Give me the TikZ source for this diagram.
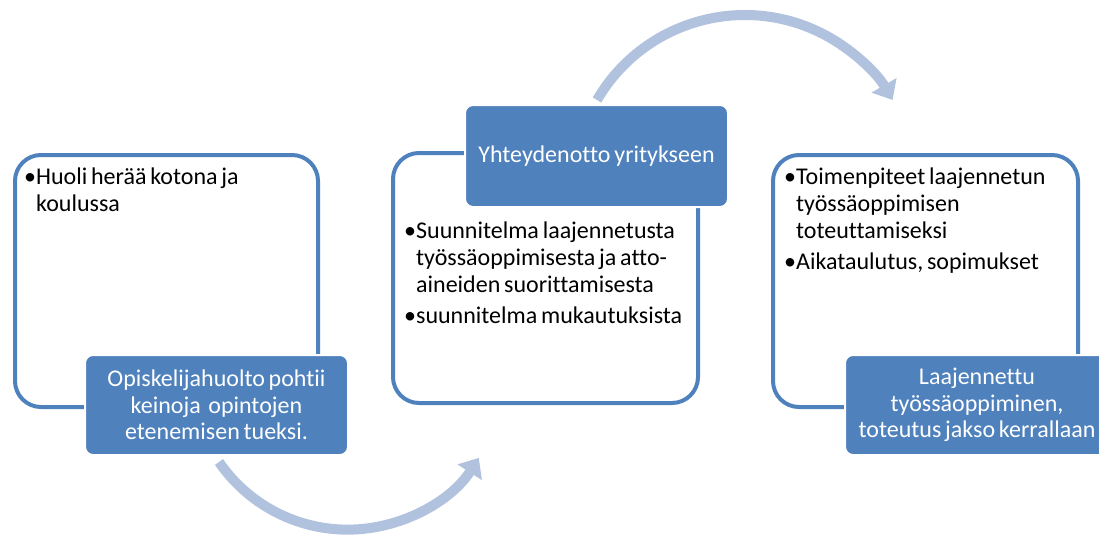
\documentclass[tikz,border=0pt]{standalone}
\usepackage{fontspec}
\setmainfont[WordSpace=0.7,Ligatures=NoCommon]{Carlito}
\usetikzlibrary{arrows.meta}
\definecolor{accent}{HTML}{4F81BD}
\definecolor{arrowc}{HTML}{B1C2DE}
\begin{document}
\begin{tikzpicture}[x=1pt,y=-1pt,
  outlinebox/.style={draw=accent,line width=4pt,rounded corners=26pt},
  fillbox/.style={fill=accent,draw=white,line width=2pt,rounded corners=8pt},
  bodytext/.style={anchor=north west,inner sep=0pt,align=left,font=\fontsize{24}{26.8}\selectfont},
  boxtext/.style={text=white,inner sep=0pt,align=center,font=\fontsize{24}{26.5}\selectfont},
  bigarrow/.style={draw=arrowc,line width=10pt,-{Triangle[length=17pt,width=28pt]}}]
\useasboundingbox (0,0) rectangle (1099,535);
% outlines
\draw[outlinebox] (15,155) rectangle (318,407);
\draw[outlinebox] (393,153) rectangle (698,403);
\draw[outlinebox] (773,155) rectangle (1078,407);
% filled boxes
\draw[fillbox] (85,355) rectangle node[boxtext] (f1) {Opiskelijahuolto pohtii\\keinoja\ \ opintojen\\etenemisen tueksi.} (348,455);
\draw[fillbox] (465,105) rectangle node[boxtext] (f2) {Yhteydenotto yritykseen} (728,207);
\draw[fillbox] (845,355) rectangle node[boxtext] (f3) {Laajennettu\\työssäoppiminen,\\toteutus jakso kerrallaan} (1109,455);
% body texts
\node[bodytext] (t1) at (24,168) {•Huoli herää kotona ja\\\hphantom{•}koulussa};
\node[bodytext] (t2) at (404,222) {•Suunnitelma laajennetusta\\\hphantom{•}työssäoppimisesta ja atto-\\\hphantom{•}aineiden suorittamisesta\\[4pt]•suunnitelma mukautuksista};
\node[bodytext] (t3) at (784,168) {•Toimenpiteet laajennetun\\\hphantom{•}työssäoppimisen\\\hphantom{•}toteuttamiseksi\\[4pt]•Aikataulutus, sopimukset};
% arrows
\draw[bigarrow] (219,462) arc[start angle=145.5,end angle=32.7,radius=156];
\draw[bigarrow] (597,100) arc[start angle=210.2,end angle=329.8,radius=171];
\end{tikzpicture}
\end{document}
